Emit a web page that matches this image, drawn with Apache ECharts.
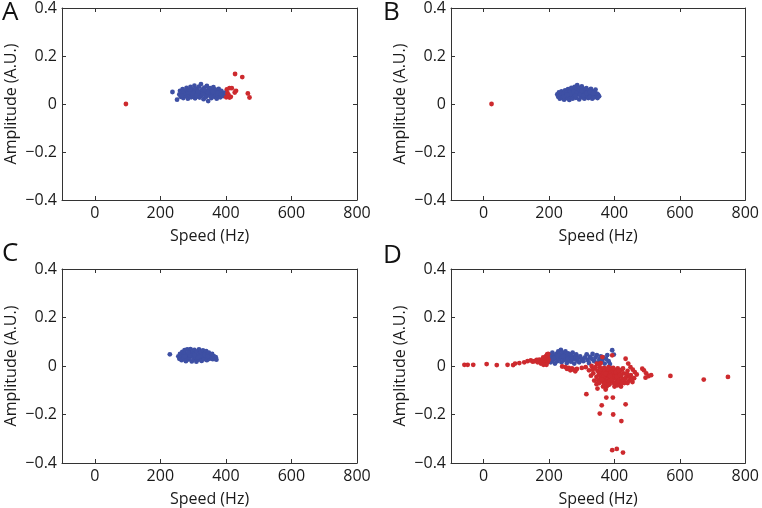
<!DOCTYPE html>
<html><head><meta charset="utf-8">
<script src="https://cdn.jsdelivr.net/npm/echarts@6/dist/echarts.min.js"></script>
<style>html,body{margin:0;padding:0;background:#fff}#c{width:762px;height:508px}</style>
</head><body><div id="c"></div>
<script>
const panelLetters = ['A','B','C','D'];
const xTicks = [0,200,400,600,800];
const yTicks = [-0.4,-0.2,0,0.2,0.4];
const xTitle = 'Speed (Hz)';
const yTitle = 'Amplitude (A.U.)';

const A_blue = [[237,0.050],[251,0.018],[258,0.040],[260,0.055],[262,0.030],[265,0.047],[268,0.062],[270,0.025],[272,0.038],[275,0.052],[278,0.033],[280,0.067],[282,0.044],[284,0.022],[286,0.058],[288,0.036],[290,0.049],[292,0.071],[294,0.028],[296,0.042],[298,0.061],[300,0.034],[302,0.053],[304,0.076],[306,0.024],[308,0.045],[310,0.064],[312,0.031],[314,0.057],[316,0.040],[318,0.072],[320,0.027],[322,0.050],[324,0.083],[326,0.036],[328,0.061],[330,0.045],[332,0.020],[334,0.068],[336,0.039],[338,0.054],[340,0.030],[342,0.075],[344,0.046],[346,0.012],[348,0.059],[350,0.035],[352,0.066],[354,0.043],[356,0.025],[358,0.055],[360,0.038],[362,0.070],[364,0.048],[366,0.030],[368,0.060],[370,0.042],[372,0.022],[374,0.052],[376,0.035],[378,0.063],[380,0.045],[383,0.028],[386,0.055],[389,0.040],[392,0.033],[396,0.047],[399,0.038],[270,0.045],[285,0.050],[300,0.045],[315,0.050],[330,0.040],[345,0.050],[360,0.050],[375,0.045],[290,0.060],[310,0.035],[335,0.060],[355,0.030],[265,0.035],[385,0.040]];
const A_red = [[95,0.000],[428,0.125],[450,0.112],[403,0.061],[411,0.066],[418,0.066],[431,0.055],[427,0.048],[401,0.028],[411,0.027],[415,0.030],[405,0.045],[467,0.044],[472,0.027],[408,0.038]];

const B_blue = [[225,0.040],[228,0.030],[230,0.048],[233,0.022],[236,0.036],[238,0.052],[241,0.028],[244,0.043],[246,0.018],[249,0.057],[251,0.034],[254,0.047],[256,0.024],[258,0.062],[260,0.039],[262,0.017],[264,0.053],[266,0.030],[268,0.067],[270,0.044],[272,0.022],[274,0.058],[276,0.036],[278,0.071],[280,0.049],[282,0.026],[284,0.062],[286,0.079],[288,0.040],[290,0.055],[292,0.019],[294,0.068],[296,0.033],[298,0.050],[300,0.073],[302,0.028],[304,0.045],[306,0.062],[308,0.022],[310,0.054],[312,0.038],[314,0.066],[316,0.030],[318,0.048],[320,0.025],[322,0.058],[324,0.041],[326,0.032],[328,0.063],[330,0.046],[332,0.022],[334,0.053],[336,0.037],[338,0.028],[340,0.048],[342,0.060],[344,0.033],[346,0.043],[348,0.025],[350,0.039],[353,0.032],[245,0.032],[265,0.040],[275,0.050],[285,0.045],[295,0.040],[305,0.035],[315,0.045],[325,0.050],[335,0.045],[280,0.035],[300,0.055],[255,0.038]];
const B_red = [[24,0.000]];

const C_blue = [[229,0.048],[255,0.040],[258,0.030],[260,0.050],[262,0.036],[265,0.024],[267,0.058],[270,0.043],[272,0.031],[274,0.065],[276,0.050],[278,0.020],[280,0.038],[282,0.068],[284,0.046],[286,0.027],[288,0.057],[290,0.035],[292,0.070],[294,0.048],[296,0.019],[298,0.062],[300,0.040],[302,0.029],[304,0.066],[306,0.052],[308,0.034],[310,0.018],[312,0.060],[314,0.044],[316,0.026],[318,0.068],[320,0.050],[322,0.033],[324,0.057],[326,0.021],[328,0.045],[330,0.064],[332,0.037],[334,0.028],[336,0.053],[338,0.042],[340,0.061],[342,0.024],[344,0.048],[346,0.035],[348,0.055],[350,0.030],[352,0.045],[355,0.038],[358,0.050],[360,0.028],[363,0.041],[366,0.033],[369,0.036],[371,0.026],[275,0.040],[290,0.045],[305,0.045],[320,0.040],[335,0.045],[285,0.055],[315,0.035],[345,0.040]];
const C_red = [];

const D_blue = [[200,0.030],[203,0.045],[205,0.015],[208,0.038],[210,0.055],[212,0.025],[215,0.042],[218,0.010],[220,0.033],[222,0.050],[225,0.020],[228,0.060],[230,0.038],[232,0.028],[234,0.048],[236,0.066],[238,0.015],[240,0.035],[242,0.055],[245,0.025],[247,0.045],[250,0.060],[252,0.030],[254,0.012],[256,0.040],[258,0.052],[260,0.022],[262,0.035],[265,0.048],[267,0.018],[270,0.040],[272,0.055],[275,0.028],[277,0.010],[280,0.038],[283,0.048],[286,0.022],[288,0.032],[292,0.015],[295,0.040],[300,0.028],[305,0.020],[310,0.035],[315,0.048],[318,0.025],[322,0.012],[325,0.038],[330,0.030],[333,0.050],[338,0.020],[342,0.035],[346,0.045],[350,0.015],[354,0.028],[358,0.040],[362,0.022],[366,0.035],[370,0.010],[374,0.030],[378,0.045],[382,0.020],[386,0.008],[393,0.065],[398,0.047],[244,0.040],[256,0.028],[268,0.030],[226,0.042],[214,0.032]];
const D_red = [[-59,0.005],[-49,0.005],[-32,0.005],[9,0.008],[40,0.004],[73,0.005],[90,0.004],[96,0.010],[109,0.012],[124,0.015],[134,0.020],[144,0.023],[150,0.018],[155,0.020],[162,0.025],[170,0.026],[165,0.015],[175,0.010],[178,0.025],[180,0.018],[182,0.035],[185,0.022],[186,0.012],[188,0.030],[190,0.040],[191,0.020],[193,0.028],[194,0.048],[195,0.015],[196,0.035],[197,0.050],[198,0.025],[192,0.005],[183,0.005],[250,-0.005],[255,-0.012],[260,-0.008],[265,-0.018],[270,-0.010],[275,-0.015],[280,-0.022],[285,-0.012],[240,-0.002],[300,-0.008],[312,-0.005],[322,-0.018],[330,0.000],[335,-0.030],[340,-0.010],[345,-0.045],[348,-0.020],[350,-0.060],[352,-0.035],[355,-0.005],[357,-0.050],[358,-0.025],[360,-0.015],[362,-0.040],[363,0.037],[364,-0.065],[366,-0.030],[368,-0.008],[370,-0.055],[371,-0.020],[373,-0.042],[374,-0.070],[375,-0.012],[377,-0.035],[378,-0.060],[380,-0.025],[381,-0.048],[382,-0.005],[384,-0.038],[385,-0.075],[386,-0.018],[388,-0.055],[389,-0.030],[390,-0.045],[392,-0.010],[393,0.044],[394,-0.065],[395,-0.035],[397,-0.022],[398,-0.052],[400,-0.015],[402,-0.040],[404,-0.070],[405,-0.028],[407,-0.058],[409,-0.035],[410,-0.010],[412,-0.048],[414,-0.078],[416,-0.025],[418,-0.060],[420,-0.040],[423,-0.015],[425,-0.052],[428,-0.030],[430,-0.070],[434,0.030],[436,-0.045],[440,-0.020],[442,0.010],[445,-0.060],[449,-0.005],[450,-0.038],[455,-0.066],[460,-0.050],[462,-0.025],[485,-0.011],[490,-0.018],[495,-0.048],[497,-0.030],[504,-0.042],[512,-0.038],[571,-0.041],[673,-0.056],[747,-0.045],[314,-0.116],[348,-0.093],[373,-0.097],[361,-0.162],[355,-0.196],[375,-0.130],[395,-0.130],[396,-0.200],[434,-0.158],[421,-0.227],[393,-0.347],[407,-0.342],[426,-0.357],[338,-0.060],[345,-0.075],[420,-0.085],[440,-0.070],[365,-0.085],[400,-0.085],[342,-0.005],[346,0.010],[352,0.008],[358,0.012],[367,-0.045],[372,-0.032],[379,-0.012],[383,-0.065],[387,-0.042],[391,-0.058],[396,-0.008],[399,-0.072],[403,-0.025],[406,-0.045],[411,-0.065],[413,-0.018],[417,-0.038],[421,-0.070],[426,-0.010],[432,-0.055],[438,-0.032],[447,-0.045],[452,-0.058],[456,-0.015],[468,-0.035],[353,-0.070],[361,-0.055],[369,-0.075],[376,-0.085],[382,-0.078],[408,-0.080],[328,-0.040],[333,-0.015]];

const blueSets = [A_blue, B_blue, C_blue, D_blue];
const redSets = [A_red, B_red, C_red, D_red];

const FONT = 'Open Sans';
const BLUE = '#3e50a4';
const RED = '#cd2a2e';
const AX = '#333';
const TXT = '#1a1a1a';

const grids = [
  {left:62, top:6, width:295, height:194},
  {left:451, top:6, width:296, height:194},
  {left:62, top:269, width:295, height:194},
  {left:451, top:269, width:296, height:194}
];
const letterPos = [[2,0],[383,0],[2,241],[383,243]];

const xAxes = [], yAxes = [], series = [], graphic = [];
const fmt = v => String(Math.round(v*10)/10).replace('-', '\u2212');
grids.forEach((g, i) => {
  const common = {gridIndex:i, type:'value', min:-100, max:800};
  const line = {show:true, onZero:false, lineStyle:{color:AX, width:1}};
  const tick = {show:true, inside:true, length:4, lineStyle:{color:AX}, customValues:xTicks};
  xAxes.push(Object.assign({}, common, {
    position:'bottom', name:xTitle, nameLocation:'middle', nameGap:28,
    nameTextStyle:{fontFamily:FONT, fontSize:16, color:TXT},
    axisLine:line, axisTick:tick,
    axisLabel:{show:true, fontFamily:FONT, fontSize:16, color:TXT, margin:5, customValues:xTicks},
    splitLine:{show:false}
  }));
  xAxes.push(Object.assign({}, common, {
    position:'top', axisLine:line, axisTick:tick,
    axisLabel:{show:false, customValues:xTicks},
    splitLine:{show:false}
  }));
  const ycommon = {gridIndex:i, type:'value', min:-0.4, max:0.4, interval:0.2};
  const ytick = {show:true, inside:true, length:4, lineStyle:{color:AX}};
  yAxes.push(Object.assign({}, ycommon, {
    position:'left', name:yTitle, nameLocation:'middle', nameGap:43,
    nameTextStyle:{fontFamily:FONT, fontSize:16, color:TXT},
    axisLine:line, axisTick:ytick,
    axisLabel:{show:true, fontFamily:FONT, fontSize:16, color:TXT, margin:5, formatter:fmt},
    splitLine:{show:false}
  }));
  yAxes.push(Object.assign({}, ycommon, {
    position:'right', axisLine:line, axisTick:ytick,
    axisLabel:{show:false},
    splitLine:{show:false}
  }));
  series.push({type:'scatter', xAxisIndex:2*i, yAxisIndex:2*i, data:blueSets[i], symbolSize:4.8, itemStyle:{color:BLUE, opacity:1}, silent:true, z:2});
  series.push({type:'scatter', xAxisIndex:2*i, yAxisIndex:2*i, data:redSets[i], symbolSize:4.8, itemStyle:{color:RED, opacity:1}, silent:true, z:3});
  graphic.push({type:'text', left:letterPos[i][0], top:letterPos[i][1], style:{text:panelLetters[i], font:'26px "' + FONT + '"', fill:'#111'}});
});

const chart = echarts.init(document.getElementById('c'), null, {renderer:'canvas'});
chart.setOption({
  animation:false,
  backgroundColor:'#fff',
  grid:grids,
  xAxis:xAxes,
  yAxis:yAxes,
  series:series,
  graphic:graphic
});
</script></body></html>
